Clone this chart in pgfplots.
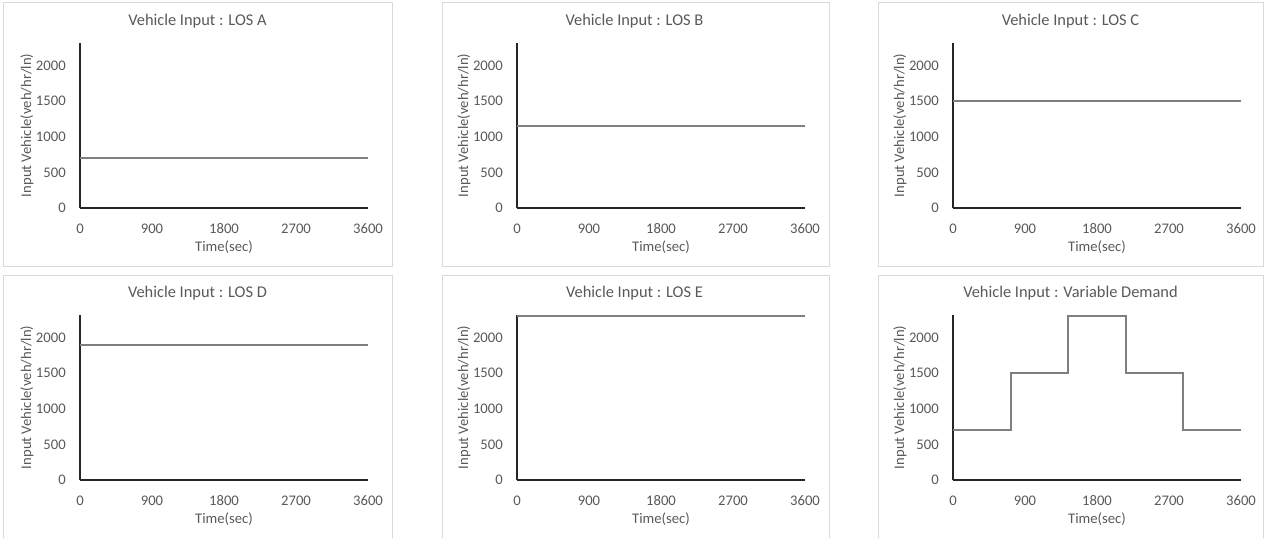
\documentclass[border=0pt]{standalone}
\usepackage{fontspec}
\setmainfont{Carlito}
\usepackage{pgfplots}
\pgfplotsset{compat=1.18}
\definecolor{txt}{HTML}{595959}
\definecolor{axl}{HTML}{262626}
\definecolor{dat}{HTML}{7F7F7F}
\definecolor{brd}{HTML}{D9D9D9}
\pgfplotsset{
  panel/.style={
    scale only axis, width=216pt, height=124pt,
    xmin=0, xmax=3600, ymin=0, ymax=2320,
    axis lines=left, axis line style={-, draw=axl, line width=1.4pt},
    xtick={0,900,1800,2700,3600}, ytick={0,500,1000,1500,2000},
    major tick length=0pt, scaled ticks=false,
    /pgf/number format/assume math mode=true,
    /pgf/number format/set thousands separator={},
    tick label style={font=\fontsize{11}{13}\selectfont, text=txt},
    xticklabel style={anchor=base, yshift=-18.75pt},
    yticklabel style={anchor=east, inner sep=0pt, xshift=-10.5pt},
    title style={at={(axis description cs:0.408,1.053)}, anchor=base, font=\fontsize{12.3}{14}\selectfont, text=txt},
    xlabel style={at={(axis description cs:0.5,-0.266)}, anchor=base, font=\fontsize{11}{13}\selectfont, text=txt},
    ylabel style={at={(axis description cs:-0.1701,0.5)}, anchor=base, font=\fontsize{11}{13}\selectfont, text=txt},
    xlabel={Time(sec)}, ylabel={Input Vehicle(veh/hr/ln)},
    clip=false,
  },
  dline/.style={draw=dat, line width=1.5pt, mark=none},
}
\begin{document}
\begin{tikzpicture}
\useasboundingbox (0,0) rectangle (948.75pt,402.75pt);
% panel borders
\draw[brd, line width=0.75pt] (2.25pt,203.25pt) rectangle (294pt,400.5pt);
\draw[brd, line width=0.75pt] (331.5pt,203.25pt) rectangle (621.75pt,400.5pt);
\draw[brd, line width=0.75pt] (658.5pt,203.25pt) rectangle (947.25pt,400.5pt);
\draw[brd, line width=0.75pt] (2.25pt,-2pt) -- (2.25pt,196.5pt) -- (294pt,196.5pt) -- (294pt,-2pt);
\draw[brd, line width=0.75pt] (331.5pt,-2pt) -- (331.5pt,196.5pt) -- (621.75pt,196.5pt) -- (621.75pt,-2pt);
\draw[brd, line width=0.75pt] (658.5pt,-2pt) -- (658.5pt,196.5pt) -- (947.25pt,196.5pt) -- (947.25pt,-2pt);

\begin{axis}[panel, at={(60pt,246.75pt)}, anchor=south west, title={Vehicle Input : LOS A}]
\addplot[dline] coordinates {(0,700) (3600,700)};
\end{axis}
\begin{axis}[panel, at={(387.75pt,246.75pt)}, anchor=south west, title={Vehicle Input : LOS B}]
\addplot[dline] coordinates {(0,1150) (3600,1150)};
\end{axis}
\begin{axis}[panel, at={(714.75pt,246.75pt)}, anchor=south west, title={Vehicle Input : LOS C}]
\addplot[dline] coordinates {(0,1500) (3600,1500)};
\end{axis}
\begin{axis}[panel, at={(60pt,42.75pt)}, anchor=south west, title={Vehicle Input : LOS D}]
\addplot[dline] coordinates {(0,1900) (3600,1900)};
\end{axis}
\begin{axis}[panel, at={(387.75pt,42.75pt)}, anchor=south west, title={Vehicle Input : LOS E}]
\addplot[dline] coordinates {(0,2300) (3600,2300)};
\end{axis}
\begin{axis}[panel, at={(714.75pt,42.75pt)}, anchor=south west, title={Vehicle Input : Variable Demand}]
\addplot[dline] coordinates {(0,700) (720,700) (720,1500) (1440,1500) (1440,2300) (2160,2300) (2160,1500) (2880,1500) (2880,700) (3600,700)};
\end{axis}
\end{tikzpicture}
\end{document}
